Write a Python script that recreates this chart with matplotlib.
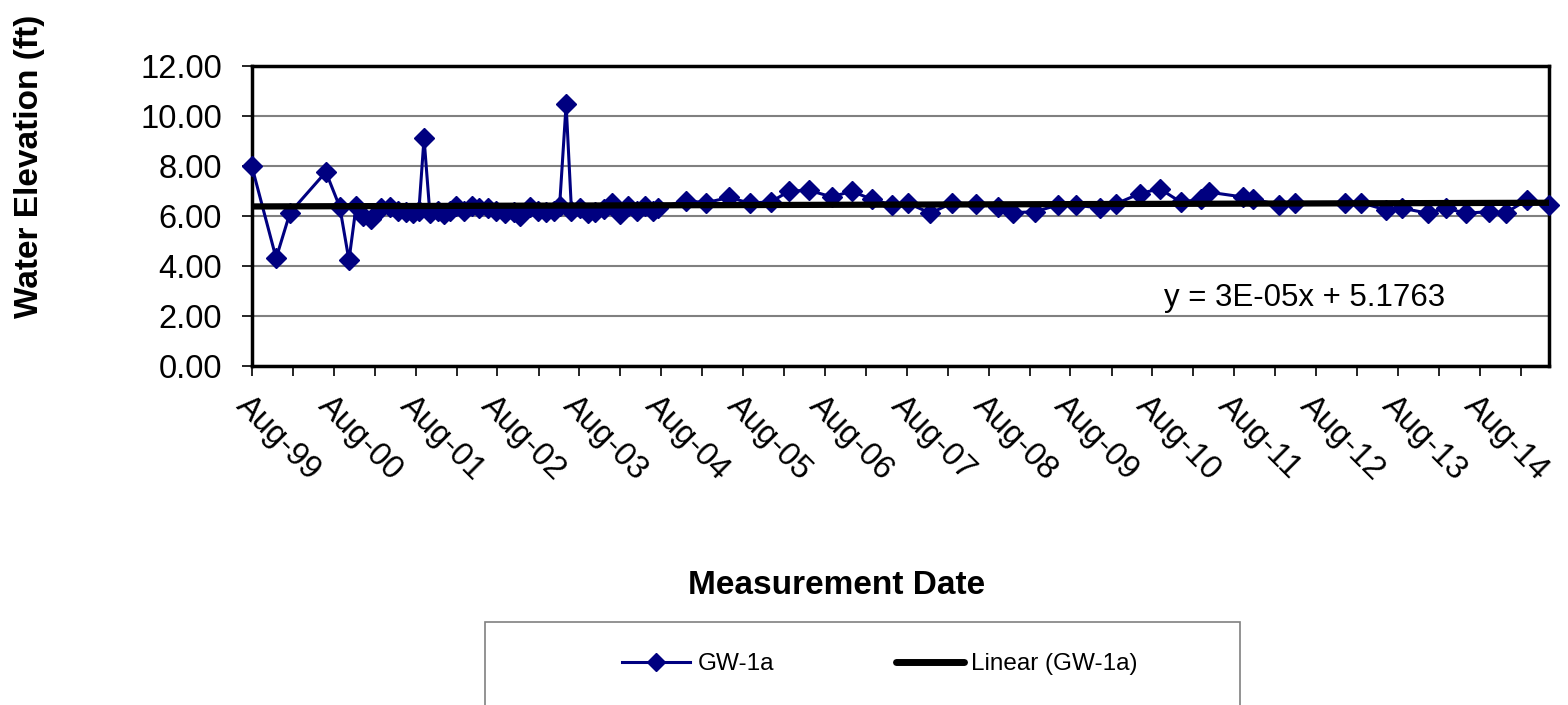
import matplotlib
matplotlib.use("Agg")
import matplotlib.pyplot as plt
import matplotlib.dates as mdates
from matplotlib.lines import Line2D
from matplotlib.patches import Rectangle
import numpy as np
import pandas as pd

plt.rcParams['font.family'] = ['Liberation Sans', 'DejaVu Sans']

dates = [
    "1999-08-01", "1999-11-18", "2000-01-19", "2000-06-27", "2000-08-28", "2000-10-08",
    "2000-11-09", "2000-12-10", "2001-01-15", "2001-02-28", "2001-04-08", "2001-05-14",
    "2001-06-19", "2001-07-20", "2001-08-16", "2001-09-08", "2001-10-04", "2001-11-10",
    "2001-12-07", "2002-01-02", "2002-01-28", "2002-03-04", "2002-04-10", "2002-05-13",
    "2002-06-19", "2002-07-28", "2002-09-04", "2002-10-13", "2002-11-09", "2002-12-24",
    "2003-01-28", "2003-03-08", "2003-04-13", "2003-05-06", "2003-06-04", "2003-06-28",
    "2003-08-03", "2003-09-08", "2003-10-13", "2003-11-18", "2003-12-24", "2004-01-31",
    "2004-03-04", "2004-04-14", "2004-05-19", "2004-06-24", "2004-07-16",
    "2004-11-18", "2005-02-17", "2005-06-01", "2005-09-01", "2005-12-06", "2006-02-22",
    "2006-05-22", "2006-09-01", "2006-11-29", "2007-03-01", "2007-05-29", "2007-08-07",
    "2007-11-16", "2008-02-18", "2008-06-04", "2008-09-13", "2008-11-19", "2009-02-25",
    "2009-06-07", "2009-08-25", "2009-12-10", "2010-02-19", "2010-06-06", "2010-09-04",
    "2010-12-09", "2011-03-07", "2011-04-13", "2011-09-09", "2011-10-24", "2012-02-16",
    "2012-05-01", "2012-12-07", "2013-02-19", "2013-06-09", "2013-08-22", "2013-12-12",
    "2014-03-03", "2014-06-01", "2014-09-13", "2014-11-27", "2015-02-28", "2015-06-07",
]
elevation = [
    8.00, 4.30, 6.12, 7.75, 6.35, 4.22,
    6.38, 6.00, 5.88, 6.30, 6.35, 6.20,
    6.15, 6.10, 6.20, 9.10, 6.10, 6.20,
    6.05, 6.20, 6.40, 6.20, 6.40, 6.30,
    6.30, 6.20, 6.10, 6.15, 6.00, 6.35,
    6.20, 6.15, 6.20, 6.40, 10.45, 6.20,
    6.30, 6.10, 6.15, 6.25, 6.50, 6.05,
    6.40, 6.20, 6.40, 6.20, 6.30,
    6.60, 6.52, 6.73, 6.50, 6.56, 6.98,
    7.02, 6.75, 6.98, 6.65, 6.43, 6.50,
    6.10, 6.50, 6.48, 6.36, 6.12, 6.16,
    6.43, 6.43, 6.30, 6.47, 6.88, 7.08,
    6.53, 6.68, 6.94, 6.75, 6.68, 6.43,
    6.50, 6.52, 6.52, 6.23, 6.30, 6.10,
    6.30, 6.10, 6.16, 6.12, 6.63, 6.43,
]
xtick_labels = ["Aug-99", "Aug-00", "Aug-01", "Aug-02", "Aug-03", "Aug-04", "Aug-05",
                "Aug-06", "Aug-07", "Aug-08", "Aug-09", "Aug-10", "Aug-11", "Aug-12",
                "Aug-13", "Aug-14"]
series_name = "GW-1a"
trend_name = "Linear (GW-1a)"
equation = "y = 3E-05x + 5.1763"

W, H = 1568, 705
fig = plt.figure(figsize=(W / 100, H / 100), dpi=100)
ax = fig.add_axes([251.7 / W, 1 - 365.7 / H, (1549 - 251.7) / W, (365.7 - 65.7) / H])

d = pd.to_datetime(dates)
xn = mdates.date2num(d)
y = np.array(elevation)

navy = "#000080"
ax.plot(xn, y, color=navy, lw=2.2, marker="D", ms=10.5, mec=navy, mfc=navy, zorder=3, clip_on=False)

coef = np.polyfit(xn, y, 1)
xt = np.array([xn[0], xn[-1]])
ax.plot(xt, np.polyval(coef, xt), color="black", lw=4.5, zorder=4, solid_capstyle="butt")

ax.set_xlim(xn[0], xn[-1])
ax.set_ylim(0, 12)
ax.set_yticks(np.arange(0, 12.01, 2))
ax.set_yticklabels([f"{v:.2f}" for v in np.arange(0, 12.01, 2)])
ax.yaxis.grid(True, color="#808080", lw=1.5)
ax.set_axisbelow(True)

tick_dates = pd.to_datetime(["19%s-08-01" % l[-2:] if l[-2:] == "99" else "20%s-08-01" % l[-2:] for l in xtick_labels])
major = mdates.date2num(tick_dates)
ax.set_xticks(major)
ax.set_xticklabels(xtick_labels, rotation=-45, ha="left", va="top", rotation_mode="anchor")
minor = mdates.date2num(tick_dates + pd.DateOffset(months=6))
minor = minor[minor <= xn[-1]]
ax.set_xticks(minor, minor=True)

for s in ax.spines.values():
    s.set_linewidth(2.5)
    s.set_color("black")
ax.tick_params(axis="both", which="both", direction="out", length=7.5, width=1.2, color="black",
               labelsize=23.5)
ax.tick_params(axis="x", which="major", pad=10)
ax.tick_params(axis="y", pad=14)

ax.text(1445 / W, 1 - 298 / H, equation, transform=fig.transFigure, ha="right", va="center",
        fontsize=22.5)

fig.text(30 / W, 1 - 166 / H, "Water Elevation (ft)", rotation=90, ha="center", va="center",
         fontsize=24, fontweight="bold")
fig.text(837 / W, 1 - 585 / H, "Measurement Date", ha="center", va="center",
         fontsize=24, fontweight="bold")

fig.patches.append(Rectangle((485 / W, 1 - 712 / H), (1240 - 485) / W, (712 - 622) / H,
                             transform=fig.transFigure, fill=False, ec="#808080", lw=1.2))
h1 = Line2D([], [], color=navy, lw=2.2, marker="D", ms=9, mfc=navy, mec=navy)
h2 = Line2D([], [], color="black", lw=5, solid_capstyle="round")
fig.legend([h1, h2], [series_name, trend_name], loc="center left",
           bbox_to_anchor=(610 / W, 1 - 664 / H), ncol=2, frameon=False, fontsize=17.5,
           handlelength=2.8, handletextpad=0.3, columnspacing=5.0, borderpad=0, numpoints=1)

fig.savefig("out.png", dpi=100)
